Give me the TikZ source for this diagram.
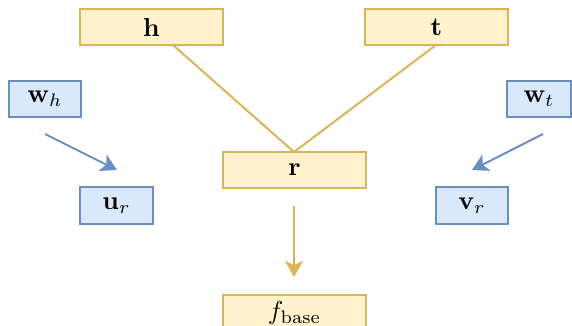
\documentclass[tikz,border=0pt]{standalone}
\usepackage{amsmath}
\usepackage{graphicx}
\usetikzlibrary{arrows.meta}
\definecolor{yfill}{HTML}{FFF2CC}
\definecolor{ydraw}{HTML}{D6B656}
\definecolor{bfill}{HTML}{DAE8FC}
\definecolor{bdraw}{HTML}{6C8EBF}
\newcommand{\lblmath}[1]{\scalebox{2.6}{$#1$}}
\tikzset{
  ybox/.style={draw=ydraw, fill=yfill, line width=2pt, inner sep=0pt},
  bbox/.style={draw=bdraw, fill=bfill, line width=2pt, inner sep=0pt},
  yline/.style={draw=ydraw, line width=2pt},
  yarrow/.style={draw=ydraw, line width=2pt, -{Stealth[length=16pt,width=18pt,inset=4pt]}},
  barrow/.style={draw=bdraw, line width=2pt, -{Stealth[length=16pt,width=18pt,inset=4pt]}}
}
\begin{document}
\begin{tikzpicture}[x=1pt,y=-1pt]
\useasboundingbox (0,0) rectangle (572,326);
\begin{scope}
\clip (0,0) rectangle (572,326);
\node[ybox, minimum width=143pt, minimum height=36pt] (h) at (151.5,27) {\lblmath{\mathbf{h}}};
\node[ybox, minimum width=143pt, minimum height=36pt] (t) at (436.5,27) {\lblmath{\mathbf{t}}};
\node[ybox, minimum width=143pt, minimum height=36pt] (r) at (294.5,170) {\lblmath{\mathbf{r}}};
\node[ybox, minimum width=143pt, minimum height=36pt] (f) at (294.5,313) {\lblmath{f_{\text{base}}}};
\node[bbox, minimum width=72pt, minimum height=36pt] (wh) at (45,99) {\lblmath{\mathbf{w}_h}};
\node[bbox, minimum width=64pt, minimum height=36pt] (wt) at (539,99) {\lblmath{\mathbf{w}_t}};
\node[bbox, minimum width=73pt, minimum height=37pt] (ur) at (116.5,205.5) {\lblmath{\mathbf{u}_r}};
\node[bbox, minimum width=72pt, minimum height=37pt] (vr) at (472,205.5) {\lblmath{\mathbf{v}_r}};
\coordinate (hb) at (173,45);
\coordinate (tb) at (436,45);
\coordinate (rt) at (294,152);
\draw[yline] (hb) -- (rt);
\draw[yline] (tb) -- (rt);
\coordinate (a1) at (45,134);
\coordinate (a1e) at (117,170);
\coordinate (a2) at (543,134);
\coordinate (a2e) at (472,170);
\draw[barrow] (a1) -- (a1e);
\draw[barrow] (a2) -- (a2e);
\coordinate (c1) at (294,206);
\coordinate (c2) at (294,277);
\draw[yarrow] (c1) -- (c2);
\end{scope}
\end{tikzpicture}
\end{document}
